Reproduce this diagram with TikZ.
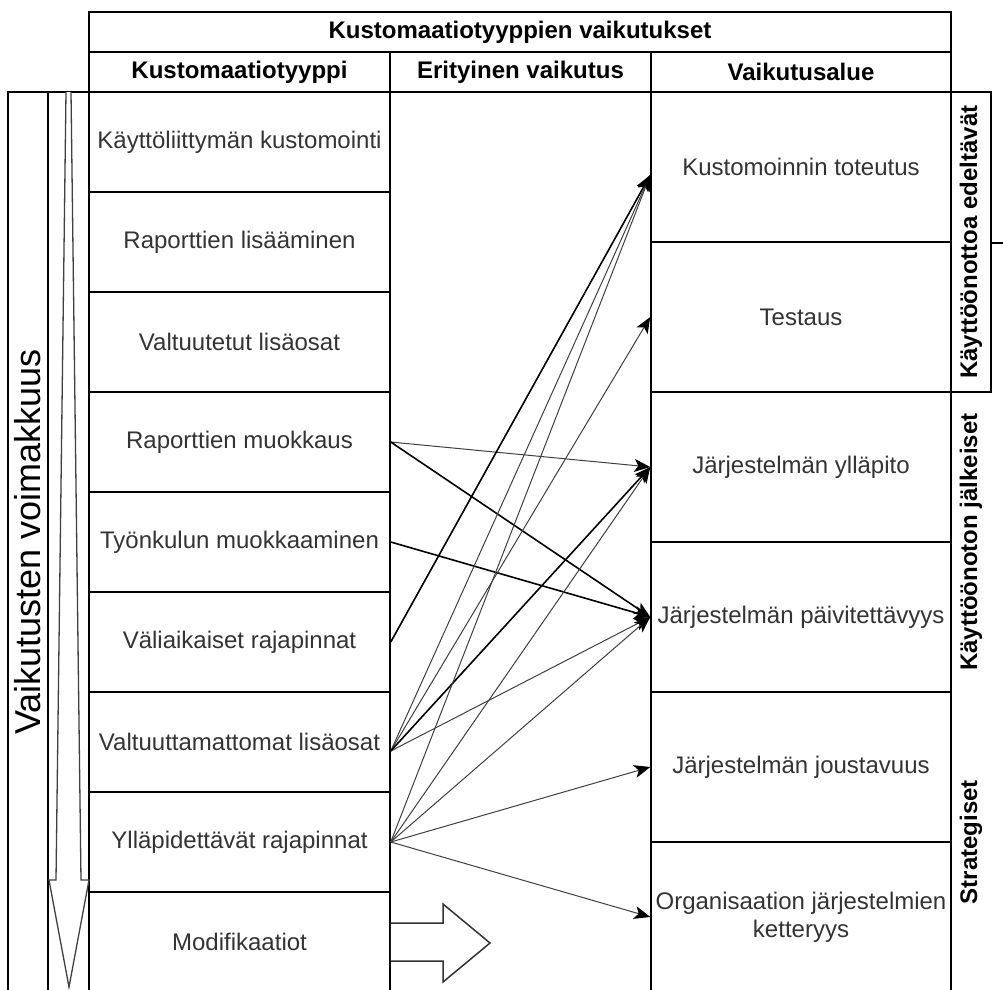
\documentclass[tikz,border=0pt]{standalone}
\usepackage{fontspec}
\setmainfont{Liberation Sans}
\usetikzlibrary{arrows.meta}

\newcommand{\cellfont}{\fontsize{24pt}{28pt}\selectfont}
\tikzset{
  cell/.style={draw, line width=1.5pt, inner sep=2pt, font=\cellfont, text=black!80, align=center},
  head/.style={cell, font=\cellfont\bfseries, text=black, minimum height=40pt},
  typecell/.style={cell, minimum width=301pt, minimum height=100pt},
  areacell/.style={cell, minimum width=300pt, minimum height=150pt},
  side/.style={rotate=90, inner sep=0pt, font=\cellfont\bfseries},
  link/.style={-{Stealth[length=16pt,width=13pt,inset=4pt,black]}, line width=1pt, black!75},
  strong/.style={link, line width=1.6pt, black},
}

\begin{document}
\begin{tikzpicture}[x=1pt,y=-1pt]
\useasboundingbox (0,0) rectangle (1003,989);

% otsikot
\node[head, minimum width=862pt] at (520,32) (hdr) {Kustomaatiotyyppien vaikutukset};
\node[head, minimum width=301pt] at (239.5,72) (hdrtype) {Kustomaatiotyyppi};
\node[head, minimum width=261pt] at (520.5,72) (hdreffect) {Erityinen vaikutus};
\node[head, minimum width=300pt] at (801,72) (hdrarea) {Vaikutusalue};

% kustomaatiotyypit
\node[typecell] at (239.5,142) (ui) {Käyttöliittymän kustomointi};
\node[typecell] at (239.5,242) (repadd) {Raporttien lisääminen};
\node[typecell] at (239.5,342) (authaddon) {Valtuutetut lisäosat};
\node[typecell] at (239.5,442) (repmod) {Raporttien muokkaus};
\node[typecell] at (239.5,542) (flowmod) {Työnkulun muokkaaminen};
\node[typecell] at (239.5,642) (tempif) {Väliaikaiset rajapinnat};
\node[typecell] at (239.5,742) (unauthaddon) {Valtuuttamattomat lisäosat};
\node[typecell] at (239.5,842) (maintif) {Ylläpidettävät rajapinnat};
\node[typecell] at (239.5,942) (modif) {Modifikaatiot};

% vaikutusalueet
\node[areacell] at (801,167) (impl) {Kustomoinnin toteutus};
\node[areacell] at (801,317) (test) {Testaus};
\node[areacell] at (801,467) (maint) {Järjestelmän ylläpito};
\node[areacell] at (801,617) (upgr) {Järjestelmän päivitettävyys};
\node[areacell] at (801,767) (flex) {Järjestelmän joustavuus};
\node[areacell] at (801,917) (agile) {Organisaation järjestelmien\\ketteryys};

% voimakkuus vasemmalla
\node[cell, rotate=90, minimum width=900pt, minimum height=40pt, text=black,
  font=\fontsize{36pt}{40pt}\selectfont] at (28,542) (strength) {Vaikutusten voimakkuus};
\node[cell, minimum width=41pt, minimum height=900pt] at (68.5,542) (scalecol) {};
\draw[line width=1.3pt, black!75, fill=white] (66,92) -- (56,880) -- (49,880) -- (69,987)
  -- (89,880) -- (81,880) -- (71,92);

% ajoitus oikealla
\node[side, draw, line width=1.5pt, minimum width=300pt, minimum height=40pt] at (971,242) (preimpl) {Käyttöönottoa edeltävät};
\node[side] at (971,542) (postimpl) {Käyttöönoton jälkeiset};
\node[side] at (971,842) (strat) {Strategiset};
\draw[line width=1.5pt] (991,243) -- (1003,243);

% vaikutukset
\coordinate (implin) at ([yshift=-8pt]impl.west);
\coordinate (unauthout) at ([yshift=-9pt]unauthaddon.east);
\draw[link] (repmod.east) -- (maint.west);
\draw[strong] (repmod.east) -- (upgr.west);
\draw[strong] (flowmod.east) -- (upgr.west);
\draw[strong] (tempif.east) -- (implin);
\draw[link] (unauthout) -- (implin);
\foreach \t in {test,upgr} \draw[link] (unauthout) -- (\t.west);
\draw[strong] (unauthout) -- (maint.west);
\draw[link] (maintif.east) -- (implin);
\foreach \t in {maint,upgr,flex,agile} \draw[link] (maintif.east) -- (\t.west);

% modifikaatiot
\draw[line width=1.5pt, black!80, fill=white] (modif.east |- 0,923) -- (443,923) -- (443,904)
  -- (490,943) -- (443,982) -- (443,961) -- (modif.east |- 0,961);
\end{tikzpicture}
\end{document}
